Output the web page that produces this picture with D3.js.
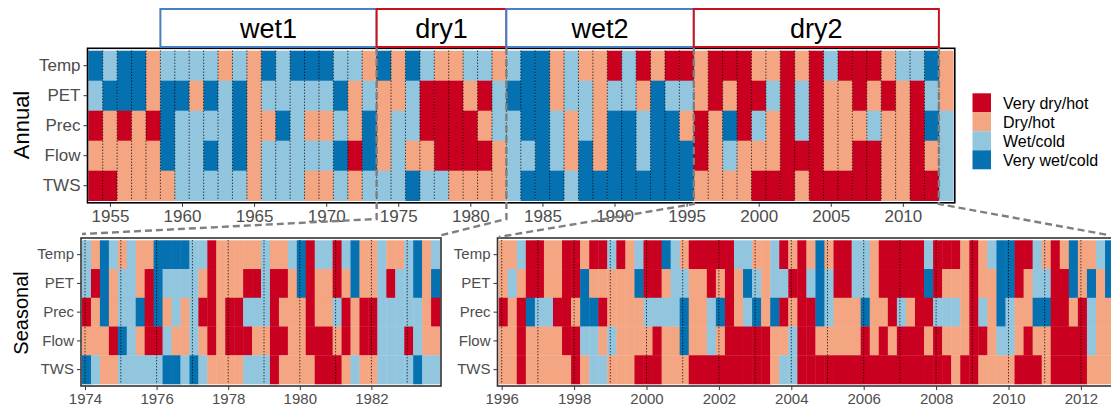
<!DOCTYPE html>
<html>
<head>
<meta charset="utf-8">
<script src="https://cdn.jsdelivr.net/npm/d3@7"></script>
<style>
  body { margin: 0; background: #fff; }
  svg { display: block; font-family: "Liberation Sans", Arial, sans-serif; }
</style>
</head>
<body>
<svg width="1111" height="409"></svg>
<script>
// 1 = very dry/hot, 2 = dry/hot, 3 = wet/cold, 4 = very wet/cold
const variables = ["Temp", "PET", "Prec", "Flow", "TWS"];
const classNames = ["Very dry/hot", "Dry/hot", "Wet/cold", "Very wet/cold"];
const classColors = ["#ca0020", "#f4a582", "#92c5de", "#0571b0"];

const periodNames = ["wet1", "dry1", "wet2", "dry2"];
const periodStart = [1959, 1974, 1983, 1996];
const periodEnd = [1973, 1982, 1995, 2012];

const annualFirstYear = 1954;
const annualTicks = [1955, 1960, 1965, 1970, 1975, 1980, 1985, 1990, 1995, 2000, 2005, 2010];
const annualTemp = [4,3,4,4,2,3,3,3,3,2,3,2,4,3,4, 4,4,3,3,2,4,2,4,3,2,2,3,3,2,3,4,4, 2,3,2,2,1,3,1,2,1,1,2,1,1,1,2,2, 1,2,1,3,1,1,1,2,3,3,4,2];
const annualPET  = [3,4,4,4,2,4,4,2,4,3,4,2,3,3,3, 3,3,4,2,3,2,2,3,1,1,1,2,1,3,4,4,4, 2,3,3,2,3,3,2,4,3,3,2,1,2,1,1,3, 1,3,1,2,2,1,2,1,2,1,3,2];
const annualPrec = [1,2,1,2,1,4,3,3,3,3,4,2,2,4,3, 2,2,3,2,4,2,3,3,1,1,1,1,2,3,3,4,4, 3,2,3,2,4,4,3,4,4,2,1,2,4,1,3,2, 1,3,1,2,2,2,3,2,2,1,4,3];
const annualFlow = [2,2,2,2,2,4,3,3,4,3,4,2,3,3,3, 3,3,4,1,4,2,3,2,2,1,1,1,1,2,3,3,4, 3,2,4,2,4,4,3,4,4,4,1,2,3,2,2,2, 1,1,1,2,2,1,1,2,2,1,2,3];
const annualTWS  = [1,1,2,2,2,2,3,3,3,3,3,2,3,3,3, 2,2,3,2,3,3,3,4,3,3,2,2,2,2,3,4,4, 4,3,4,4,4,4,4,4,4,4,2,2,2,2,1,1, 1,2,1,1,1,1,1,2,2,1,1,3];

// seasonal values: DJF, MAM, JJA, SON for each year
const dryFirstYear = 1974;
const dryTicks = [1974, 1976, 1978, 1980, 1982];
const dryTemp = [3,2,4,3, 2,3,2,2, 4,4,4,4, 3,3,1,2, 2,2,2,2, 3,2,2,3, 4,1,3,3, 1,3,4,2, 2,3,2,2, 3,4,2,3];
const dryPET  = [3,1,4,2, 3,3,2,1, 4,3,3,3, 3,2,1,2, 2,2,1,1, 3,1,1,2, 4,1,2,2, 1,2,4,2, 2,3,1,3, 3,4,2,4];
const dryPrec = [1,2,4,2, 3,3,4,1, 4,2,3,2, 3,1,1,2, 1,1,3,3, 3,1,2,2, 2,1,2,2, 3,1,2,1, 1,3,3,3, 3,3,2,1];
const dryFlow = [2,2,2,1, 4,3,2,1, 1,3,2,2, 3,2,1,2, 1,1,1,2, 2,1,1,2, 2,1,1,1, 2,1,2,1, 1,3,3,3, 1,3,2,2];
const dryTWS  = [4,3,2,2, 3,3,3,3, 3,4,4,3, 4,3,2,2, 2,2,3,3, 3,1,2,2, 2,2,1,1, 1,2,3,2, 2,3,3,3, 3,4,3,3];

const recentFirstYear = 1996;
const recentTicks = [1996, 1998, 2000, 2002, 2004, 2006, 2008, 2010, 2012];
const recentTemp = [2,2,3,1, 1,2,2,1, 1,2,1,1, 3,1,2,3, 1,1,4,3, 2,1,1,1, 1,1,3,3, 2,2,3,1, 2,1,2,4, 2,1,1,3, 3,2,1,1, 1,1,1,3, 1,1,1,2, 1,2,3,4, 4,1,1,3, 2,1,2,4, 2,2,3,4];
const recentPET  = [2,3,2,1, 1,2,2,1, 1,4,2,2, 2,2,2,4, 1,1,2,3, 3,2,2,1, 2,1,2,4, 3,2,3,3, 1,1,3,4, 3,1,1,3, 3,2,1,1, 1,1,1,4, 1,2,2,2, 1,2,2,4, 4,1,2,3, 3,1,1,4, 2,4,2,4];
const recentPrec = [1,2,1,4, 3,3,1,1, 2,4,4,1, 2,2,2,2, 3,3,3,3, 4,2,2,3, 4,1,2,3, 4,2,4,1, 2,1,1,4, 3,2,2,2, 4,2,2,1, 3,2,1,1, 3,3,3,2, 1,3,2,4, 3,2,2,4, 4,1,1,2, 1,3,2,2];
const recentFlow = [2,2,1,2, 2,2,2,1, 1,3,3,2, 3,2,2,2, 2,1,2,2, 4,2,2,3, 2,1,1,1, 1,1,2,2, 3,1,1,2, 2,2,2,2, 1,2,1,2, 1,1,1,2, 1,2,2,2, 1,1,2,3, 3,2,1,2, 2,1,1,1, 1,3,2,2];
const recentTWS  = [2,2,1,2, 2,2,2,2, 1,2,3,3, 2,2,2,1, 1,1,2,2, 2,1,1,1, 1,1,1,1, 1,1,2,3, 3,1,1,1, 1,1,1,1, 1,1,1,1, 1,1,1,1, 1,1,2,1, 1,2,2,2, 2,1,1,1, 2,1,1,1, 1,2,2,2];

const annualRows = [annualTemp, annualPET, annualPrec, annualFlow, annualTWS];
const dryRows = [dryTemp, dryPET, dryPrec, dryFlow, dryTWS];
const recentRows = [recentTemp, recentPET, recentPrec, recentFlow, recentTWS];

const color = d3.scaleOrdinal([1, 2, 3, 4], classColors);
const svg = d3.select("svg");

// scales
const xA = d3.scaleLinear([annualFirstYear - 0.5, annualFirstYear + annualTemp.length - 0.5], [88.3, 953.3]);
const yA = d3.scaleBand(variables, [50.7, 200.7]);
const xL = d3.scaleLinear([1974, 1982], [85, 371.4]);
const xR = d3.scaleLinear([1996, 2012], [501.7, 1080.9]);
const yS = d3.scaleBand(variables, [240.3, 384]);

const cells = (rows, x, y, t0, step) => selection => {
    const data = rows.flatMap((values, r) =>
        values.map((v, i) => ({ key: variables[r], v, t: t0 + i * step })));
    selection.selectAll("rect.cell")
        .data(data)
        .join("rect")
        .attr("class", "cell")
        .attr("x", d => x(d.t))
        .attr("width", d => x(d.t + step) - x(d.t) + 0.4)
        .attr("y", d => y(d.key))
        .attr("height", y.bandwidth() + 0.3)
        .attr("fill", d => color(d.v));
}

const dotted = (positions, x, y) => selection => {
    selection.selectAll("line.dot")
        .data(positions)
        .join("line")
        .attr("class", "dot")
        .attr("x1", x).attr("x2", x)
        .attr("y1", y.range()[0]).attr("y2", y.range()[1])
        .attr("stroke", "#000")
        .attr("stroke-width", 1)
        .attr("stroke-dasharray", "1 2");
}

const frame = (x0, x1, y0, y1, stroke) => selection => {
    selection.append("rect")
        .attr("x", x0).attr("y", y0)
        .attr("width", x1 - x0).attr("height", y1 - y0)
        .attr("fill", "none")
        .attr("stroke", stroke)
        .attr("stroke-width", 1.6);
}

const axes = (x, y, ticks, xPos, yPos, fontSize) => selection => {
    const xg = selection.append("g")
        .attr("transform", `translate(0,${yPos})`)
        .call(d3.axisBottom(x).tickValues(ticks).tickFormat(d3.format("d")).tickSize(4).tickPadding(3));
    const yg = selection.append("g")
        .attr("transform", `translate(${xPos},0)`)
        .call(d3.axisLeft(y).tickSize(4).tickPadding(3));
    [xg, yg].forEach(g => {
        g.select(".domain").remove();
        g.selectAll(".tick line").attr("stroke", "#333");
        g.selectAll("text")
            .attr("fill", "#4d4d4d")
            .style("font-size", fontSize + "px")
            .style("font-family", "'Liberation Sans', Arial, sans-serif");
    });
}

// annual panel
const annualG = svg.append("g");
annualG.append("g").call(cells(annualRows, xA, yA, annualFirstYear - 0.5, 1));
annualG.append("g").call(dotted(d3.range(annualFirstYear + 0.5, annualFirstYear + annualTemp.length - 1, 1), xA, yA));
annualG.call(frame(87.5, 954.8, 48.3, 202.8, "#000"));
annualG.call(axes(xA, yA, annualTicks, 87.5, 202.8, 17));

// seasonal panels
const dryG = svg.append("g");
dryG.append("g").call(cells(dryRows, xL, yS, dryFirstYear - 1 / 12, 0.25));
dryG.append("g").call(dotted(d3.range(dryFirstYear, dryFirstYear + dryTemp.length / 4), xL, yS));
dryG.call(frame(81, 441, 238, 386, "#333"));
dryG.call(axes(xL, yS, dryTicks, 81, 386, 15));

const recentG = svg.append("g");
recentG.append("g").call(cells(recentRows, xR, yS, recentFirstYear - 1 / 12, 0.25));
recentG.append("g").call(dotted(d3.range(recentFirstYear, recentFirstYear + recentTemp.length / 4), xR, yS));
recentG.call(frame(497.5, 1116, 238, 386, "#333"));
recentG.call(axes(xR, yS, recentTicks, 497.5, 386, 15));

// period boxes
const boxes = svg.append("g").selectAll("g")
    .data(periodNames.map((name, i) => ({ name, start: periodStart[i], end: periodEnd[i] })))
    .join("g");
boxes.append("rect")
    .attr("x", d => xA(d.start - 0.5))
    .attr("width", d => xA(d.end + 0.5) - xA(d.start - 0.5))
    .attr("y", 9).attr("height", 38)
    .attr("fill", "#fff")
    .attr("stroke", d => d.name.startsWith("wet") ? "#4a80c0" : "#c8101e")
    .attr("stroke-width", 2);
boxes.append("text")
    .attr("x", d => (xA(d.start - 0.5) + xA(d.end + 0.5)) / 2)
    .attr("y", 28)
    .attr("dy", "0.36em")
    .attr("text-anchor", "middle")
    .style("font-size", "27px")
    .text(d => d.name);

// zoom connectors
const dash = { stroke: "#7f7f7f", width: 2.4, array: "7 4" };
const connectors = [
    [[xA(1973.5), 48], [xA(1973.5), 219], [xL(1974 - 1 / 12), 234]],
    [[xA(1982.5), 48], [xA(1982.5), 219], [xL(1983 + 11 / 12) - 2, 236]],
    [[xA(1995.5), 48], [xA(1995.5), 204], [xR(1996 - 1 / 12), 237]],
    [[xA(2012.5), 48], [xA(2012.5), 204], [1108, 235]]
];
svg.append("g").selectAll("path")
    .data(connectors)
    .join("path")
    .attr("d", d3.line())
    .attr("fill", "none")
    .attr("stroke", dash.stroke)
    .attr("stroke-width", dash.width)
    .attr("stroke-dasharray", dash.array);

// axis titles
svg.append("text")
    .attr("transform", "translate(29,125) rotate(-90)")
    .attr("text-anchor", "middle")
    .style("font-size", "22px")
    .text("Annual");
svg.append("text")
    .attr("transform", "translate(28,313) rotate(-90)")
    .attr("text-anchor", "middle")
    .style("font-size", "20px")
    .text("Seasonal");

// legend
const legend = svg.append("g").selectAll("g")
    .data(classNames)
    .join("g")
    .attr("transform", (d, i) => `translate(972.5,${93.3 + i * 19})`);
legend.append("rect")
    .attr("width", 18.5).attr("height", 19)
    .attr("fill", (d, i) => classColors[i]);
legend.append("text")
    .attr("x", 30.5).attr("y", 9.5)
    .attr("dy", "0.36em")
    .style("font-size", "16px")
    .text(d => d);
</script>
</body>
</html>
